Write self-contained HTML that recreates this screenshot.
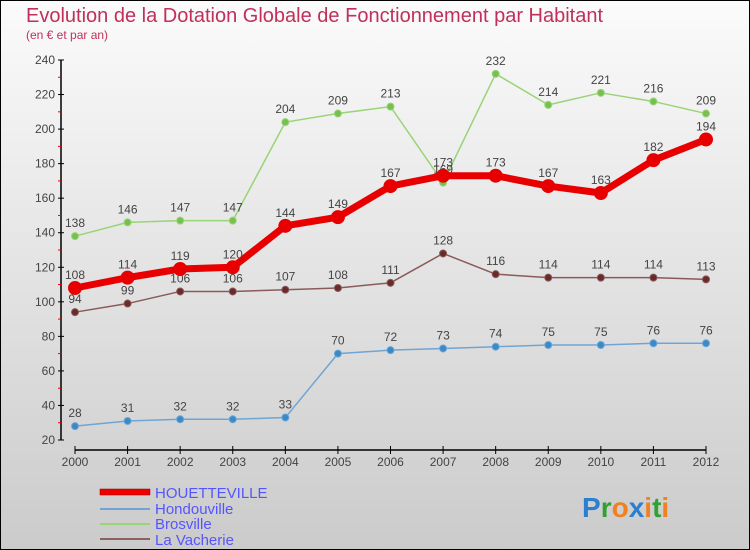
<!DOCTYPE html>
<html><head><meta charset="utf-8"><style>
html,body{margin:0;padding:0}
body{width:750px;height:550px;overflow:hidden;font-family:"Liberation Sans",sans-serif}
svg{display:block}
</style></head><body>
<svg width="750" height="550" id="c">
<defs><linearGradient id="bg" x1="0" y1="0" x2="0" y2="1"><stop offset="0" stop-color="#fbfbfb"/><stop offset="1" stop-color="#cbcbcb"/></linearGradient></defs>
<rect x="0.5" y="0.5" width="749" height="549" fill="url(#bg)" stroke="#000"/>
<text x="26" y="22" font-size="20" fill="#c0305a">Evolution de la Dotation Globale de Fonctionnement par Habitant</text>
<text x="26" y="39" font-size="12" fill="#c0305a">(en € et par an)</text>
<g id="axes"></g><g id="series"></g>
<g>
<rect x="100" y="489" width="50" height="6" fill="#e00" stroke="#900" stroke-width="0.5"/>
<text x="155" y="498" font-size="15" fill="#5555ff">HOUETTEVILLE</text>
<rect x="100" y="508" width="50" height="2" fill="#6fa5d5"/>
<text x="155" y="514" font-size="15" fill="#5555ff">Hondouville</text>
<rect x="100" y="523" width="50" height="2" fill="#99d477"/>
<text x="155" y="529" font-size="15" fill="#5555ff">Brosville</text>
<rect x="100" y="538" width="50" height="2" fill="#8a6060"/>
<text x="155" y="545" font-size="15" fill="#5555ff">La Vacherie</text>
</g>
<text x="582" y="517" font-size="28" font-weight="bold"><tspan fill="#2a7fd0">P</tspan><tspan fill="#33a033">r</tspan><tspan fill="#f08020">o</tspan><tspan fill="#2a7fd0">x</tspan><tspan fill="#f08020">i</tspan><tspan fill="#33a033">t</tspan><tspan fill="#f08020">i</tspan></text>
</svg>
<script>
const years=[2000,2001,2002,2003,2004,2005,2006,2007,2008,2009,2010,2011,2012];
const houetteville=[108,114,119,120,144,149,167,173,173,167,163,182,194];
const hondouville=[28,31,32,32,33,70,72,73,74,75,75,76,76];
const brosville=[138,146,147,147,204,209,213,169,232,214,221,216,209];
const laVacherie=[94,99,106,106,107,108,111,128,116,114,114,114,113];
const yTicks=[20,40,60,80,100,120,140,160,180,200,220,240];
const NS="http://www.w3.org/2000/svg";
const x=i=>75+i*(631/12);
const y=v=>440-(v-20)*(380/220);
function mk(t,a,p){const e=document.createElementNS(NS,t);for(const k in a)e.setAttribute(k,a[k]);p.appendChild(e);return e;}
const ax=document.getElementById('axes');
let e=mk('line',{x1:61,y1:60,x2:61,y2:440,stroke:'#000','stroke-width':1.5},ax);


yTicks.forEach(v=>{
 mk('line',{x1:58,x2:64,y1:y(v),y2:y(v),stroke:'#000'},ax);
 if(v<240)mk('line',{x1:58,x2:61,y1:y(v+10),y2:y(v+10),stroke:'#e00'},ax);
 const t=mk('text',{x:55,y:y(v)+4,'text-anchor':'end','font-size':12,fill:'#444'},ax);t.textContent=v;
 
 
});
e=mk('line',{x1:75,y1:450,x2:706,y2:450,stroke:'#000','stroke-width':1.5},ax);


years.forEach((yr,i)=>{
 mk('line',{x1:x(i),x2:x(i),y1:446,y2:454,stroke:'#000'},ax);
 const t=mk('text',{x:x(i),y:466,'text-anchor':'middle','font-size':12,fill:'#444'},ax);t.textContent=yr;
 
 
});
const sg=document.getElementById('series');
function draw(vals,name,color,dot,w,r){
 const g=mk('g',{},sg);
 
 
 const pl=mk('polyline',{points:vals.map((v,i)=>x(i)+','+y(v)).join(' '),fill:'none',stroke:color,'stroke-width':w,'stroke-linejoin':'round'},g);
 
 
 vals.forEach((v,i)=>{
  const c=mk('circle',{cx:x(i),cy:y(v),r:r,fill:dot,stroke:color,'stroke-width':1},g);
  
  
  const t=mk('text',{x:x(i),y:y(v)-9,'text-anchor':'middle','font-size':12,fill:'#444'},g);t.textContent=v;
  
  
 });
}
draw(hondouville,'hondouville','#6fa5d5','#3a8ac8',1.5,3.5);
draw(laVacherie,'la-vacherie','#8a5a5a','#6a2a2a',1.5,3.5);
draw(brosville,'brosville','#99d477','#77c050',1.5,3.5);
draw(houetteville,'houetteville','#e80000','#e80000',7,6.5);
</script>
</body></html>
